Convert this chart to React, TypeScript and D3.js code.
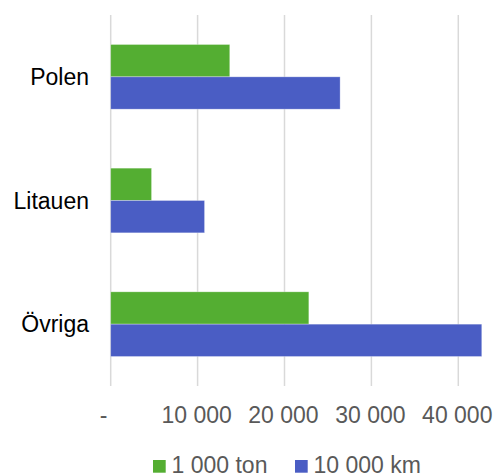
import { useEffect, useRef } from "react";
import * as d3 from "d3";

const categories = ["Polen", "Litauen", "Övriga"];
const seriesNames = ["1 000 ton", "10 000 km"];
const tonValues = [13700, 4700, 22800];
const kmValues = [26400, 10800, 42700];
const xTicks = [0, 10000, 20000, 30000, 40000];
const colors = ["#54ae32", "#4a5dc4"];

const WIDTH = 497;
const HEIGHT = 475;
const FONT = "'Liberation Sans', Arial, sans-serif";

export default function App() {
  const ref = useRef<SVGSVGElement>(null);

  useEffect(() => {
    if (!ref.current) return;
    const svg = d3.select(ref.current);
    svg.selectAll("*").remove();

    const marginLeft = 110.7;
    const plotTop = 15;
    const plotBottom = 386;

    const x = d3.scaleLinear().domain([0, 40000]).range([marginLeft, 458.3]);

    const y = d3
      .scaleBand()
      .domain(categories)
      .range([plotTop, plotBottom])
      .paddingInner(0.477)
      .paddingOuter(0.2385);

    const ySub = d3
      .scaleBand()
      .domain(seriesNames)
      .range([0, y.bandwidth()]);

    // gridlines
    svg
      .append("g")
      .selectAll("line")
      .data(xTicks)
      .join("line")
      .attr("x1", (d) => x(d))
      .attr("x2", (d) => x(d))
      .attr("y1", plotTop)
      .attr("y2", plotBottom)
      .attr("stroke", "#d9d9d9")
      .attr("stroke-width", 1.5);

    // tick labels
    svg
      .append("g")
      .selectAll("text")
      .data(xTicks)
      .join("text")
      .attr("x", (d) => (d === 0 ? x(d) - 7 : x(d) - 1))
      .attr("y", 423)
      .attr("text-anchor", "middle")
      .attr("font-family", FONT)
      .attr("font-size", 23)
      .attr("fill", "#595959")
      .text((d) => (d === 0 ? "-" : d3.format(",")(d).replace(/,/g, " ")));

    // bars
    const rows = categories.map((c, i) => ({
      category: c,
      values: [tonValues[i], kmValues[i]],
    }));

    const groups = svg
      .append("g")
      .selectAll("g")
      .data(rows)
      .join("g")
      .attr("transform", (d) => `translate(0,${y(d.category)})`);

    groups
      .selectAll("rect")
      .data((d) => d.values.map((v, j) => ({ name: seriesNames[j], value: v, j })))
      .join("rect")
      .attr("x", x(0))
      .attr("y", (d) => ySub(d.name)!)
      .attr("width", (d) => x(d.value) - x(0))
      .attr("height", ySub.bandwidth())
      .attr("fill", (d) => colors[d.j])
      .attr("stroke", "#ffffff")
      .attr("stroke-opacity", 0.4)
      .attr("stroke-width", 0.75);

    // category labels
    svg
      .append("g")
      .selectAll("text")
      .data(categories)
      .join("text")
      .attr("x", 89)
      .attr("y", (d) => y(d)! + y.bandwidth() / 2)
      .attr("dy", "0.35em")
      .attr("text-anchor", "end")
      .attr("font-family", FONT)
      .attr("font-size", 23)
      .attr("fill", "#000000")
      .text((d) => d);

    // legend
    const legendX = [153, 295];
    const legend = svg
      .append("g")
      .selectAll("g")
      .data(seriesNames)
      .join("g")
      .attr("transform", (_, i) => `translate(${legendX[i]},460)`);

    legend
      .append("rect")
      .attr("width", 12.7)
      .attr("height", 12.7)
      .attr("fill", (_, i) => colors[i]);

    legend
      .append("text")
      .attr("x", 18.5)
      .attr("y", 13)
      .attr("font-family", FONT)
      .attr("font-size", 23)
      .attr("fill", "#595959")
      .text((d) => d);
  }, []);

  return (
    <svg
      ref={ref}
      width={WIDTH}
      height={HEIGHT}
      style={{ position: "absolute", left: 0, top: 0, background: "#fff" }}
    />
  );
}
